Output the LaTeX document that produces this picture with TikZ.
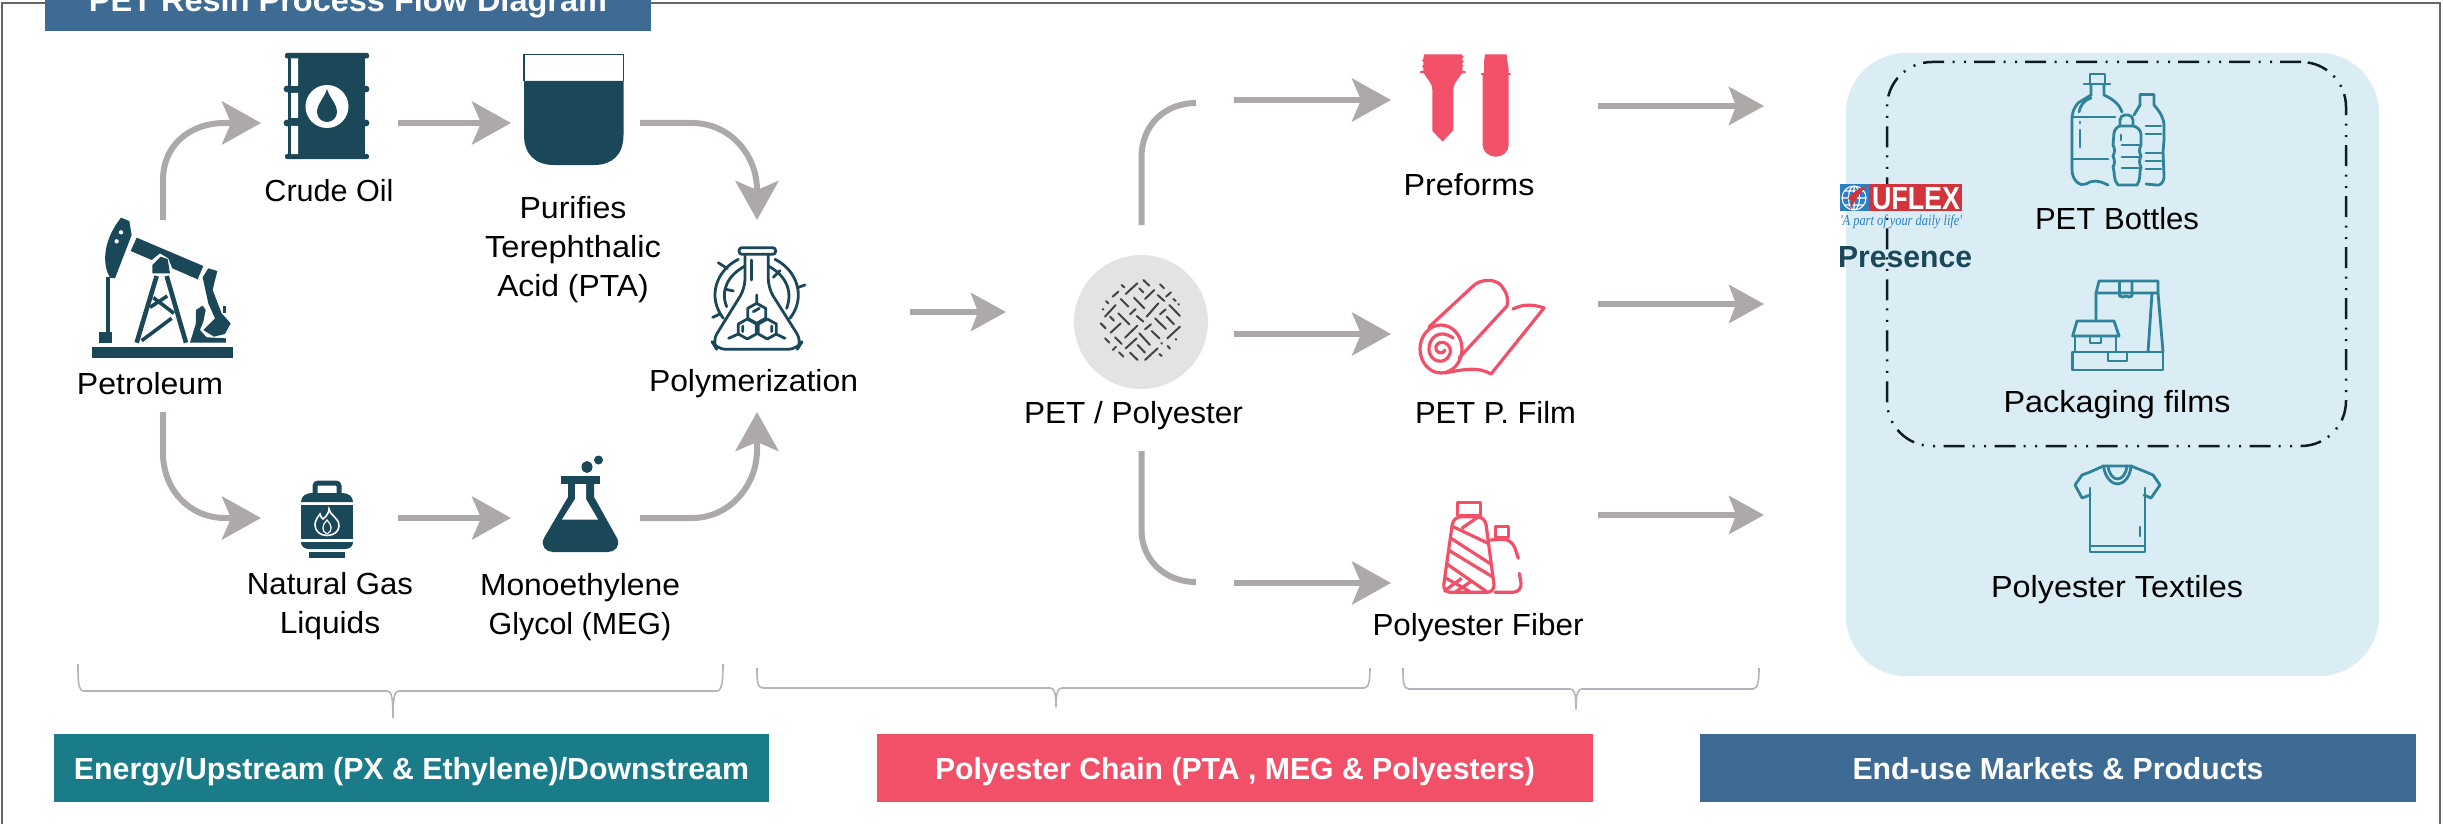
\documentclass[tikz,border=0pt]{standalone}
\usepackage{fontspec}
\usepackage{graphicx}
\setmainfont{Liberation Sans}
\newfontfamily\tagfont{Liberation Serif}
\usetikzlibrary{arrows.meta,shapes.geometric}
\definecolor{darkteal}{HTML}{1A4858}
\definecolor{redicon}{HTML}{F24F68}
\definecolor{blueicon}{HTML}{2E8299}
\definecolor{arrowgray}{HTML}{ADA9A8}
\definecolor{bandteal}{HTML}{1A7C88}
\definecolor{bandblue}{HTML}{3E6B94}
\definecolor{panelblue}{HTML}{DAECF4}
\definecolor{framegray}{HTML}{666666}
\definecolor{bracegray}{HTML}{B4B4BC}
\definecolor{dashdark}{HTML}{0D1B22}
\definecolor{pelletdark}{HTML}{3F4448}
\definecolor{logored}{HTML}{D3343C}
\definecolor{logoblue}{HTML}{2E7FC1}
\newcommand{\fitw}[2]{\resizebox{#1pt}{\height}{#2}}
\tikzset{
 port/.style={inner sep=0pt,outer sep=0pt,minimum width=#1},
 arrowlink/.style={draw=arrowgray,line width=6pt,-{Stealth[length=39pt,width=43pt,inset=9pt]}},
 smallarrow/.style={draw=arrowgray,line width=6pt,-{Stealth[length=35pt,width=38pt,inset=7pt]}},
 plainlink/.style={draw=arrowgray,line width=6pt},
 lbl/.style={anchor=base,inner sep=0pt,outer sep=0pt,font=\fontsize{30.5}{39}\selectfont,text=black,align=center},
 band/.style={inner sep=0pt,outer sep=0pt,text=white,font=\fontsize{30.5}{36}\selectfont\bfseries,text height=22pt,text depth=0pt},
 bracefig/.style={draw=bracegray,line width=1.6pt},
 tealline/.style={draw=darkteal,line width=2.8pt,line cap=round,line join=round},
 redline/.style={draw=redicon,line width=3.2pt,line cap=round,line join=round},
 blueline/.style={draw=blueicon,line width=2.8pt,line cap=round,line join=round},
}
\begin{document}
\begin{tikzpicture}[x=1pt,y=-1pt]
\clip (0,0) rectangle (2443,824);
\useasboundingbox (0,0) rectangle (2443,824);
\fill[white] (0,0) rectangle (2443,824);
% frame
\draw[framegray,line width=2.5pt] (2,830) -- (2,3) -- (2440,3) -- (2440,830);
% title
\node[band,minimum width=606pt,minimum height=50pt,fill=bandblue,text height=0pt] (title) at (348,6) {};
\node[anchor=base,inner sep=0pt,text=white,font=\fontsize{31}{36}\selectfont\bfseries] (titletext) at (348,12) {\fitw{518}{PET Resin Process Flow Diagram}};
% panel
\node[port=533pt,minimum height=623pt,fill=panelblue,rounded corners=60pt] (market) at (2112.5,364.5) {};
\node[port=459pt,minimum height=384pt,draw=dashdark,line width=2.5pt,rounded corners=45pt,dash pattern=on 21pt off 8pt on 2pt off 9.5pt on 2pt off 8.5pt] (presencebox) at (2116.5,254) {};
% bands
\node[band,minimum width=715pt,minimum height=68pt,fill=bandteal] (bandA) at (411.5,768) {\fitw{675}{Energy/Upstream (PX \& Ethylene)/Downstream}};
\node[band,minimum width=716pt,minimum height=68pt,fill=redicon] (bandB) at (1235,768) {\fitw{600}{Polyester Chain (PTA , MEG \& Polyesters)}};
\node[band,minimum width=716pt,minimum height=68pt,fill=bandblue] (bandC) at (2058,768) {\fitw{411}{End-use Markets \& Products}};
% braces
\draw[bracefig] (78,664) .. controls (78,680) and (78,691) .. (84,691) -- (387,691) .. controls (391,691) and (393,695) .. (393,718) .. controls (393,695) and (395,691) .. (399,691) -- (717,691) .. controls (722,691) and (723,680) .. (723,664);
\draw[bracefig] (757,668) .. controls (757,680) and (757,688) .. (763,688) -- (1050,688) .. controls (1054,688) and (1056,692) .. (1056,707) .. controls (1056,692) and (1058,688) .. (1062,688) -- (1364,688) .. controls (1369,688) and (1370,680) .. (1370,668);
\draw[bracefig] (1403,668) .. controls (1403,680) and (1403,689) .. (1409,689) -- (1570,689) .. controls (1574,689) and (1576,693) .. (1576,709) .. controls (1576,693) and (1578,689) .. (1582,689) -- (1753,689) .. controls (1758,689) and (1759,680) .. (1759,668);
% ports for connectors
\node[port=10pt,minimum height=192pt] (petroleumport) at (163,316) {};
\node[port=137pt,minimum height=10pt] (crudeport) at (329.5,123) {};
\node[port=129pt,minimum height=10pt] (ptaport) at (575.5,123) {};
\node[port=137pt,minimum height=10pt] (nglport) at (329.5,518) {};
\node[port=129pt,minimum height=10pt] (megport) at (575.5,518) {};
\node[port=10pt,minimum height=192pt] (polyport) at (757,316) {};
\node[port=96.5pt,minimum height=10pt] (polyoutport) at (957.75,312) {};
\node[port=10pt,minimum height=226pt] (pelletport) at (1141.5,338) {};
\node[port=207pt,minimum height=12pt] (preport) at (1494.5,103) {};
\node[port=207pt,minimum height=12pt] (filmport) at (1494.5,319) {};
\node[port=207pt,minimum height=12pt] (fiberport) at (1494.5,549) {};
\coordinate (branchup) at (1196,103);
\coordinate (branchdown) at (1196,582);
\coordinate (midfeed) at (1234,334);
\coordinate (upfeed) at (1234,100);
\coordinate (downfeed) at (1234,583);
\coordinate (marketA) at (1764,106);
\coordinate (marketB) at (1764,304);
\coordinate (marketC) at (1764,515);
% connectors
\draw[arrowlink] (petroleumport.north) -- (163,180) .. controls (163,145) and (190,123) .. (225,123) -- (crudeport.west);
\draw[arrowlink] (petroleumport.south) -- (163,453) .. controls (163,490) and (190,518) .. (225,518) -- (nglport.west);
\draw[arrowlink] (crudeport.east) -- (ptaport.west);
\draw[arrowlink] (nglport.east) -- (megport.west);
\draw[arrowlink] (ptaport.east) -- (692,123) .. controls (730,123) and (757,155) .. (757,190) -- (polyport.north);
\draw[arrowlink] (megport.east) -- (692,518) .. controls (730,518) and (757,485) .. (757,450) -- (polyport.south);
\draw[smallarrow] (polyoutport.west) -- (polyoutport.east);
\draw[plainlink] (pelletport.north) -- (1141.5,157) .. controls (1141.5,125) and (1165,103) .. (branchup);
\draw[plainlink] (pelletport.south) -- (1141.5,530) .. controls (1141.5,560) and (1165,582) .. (branchdown);
\draw[arrowlink] (upfeed) -- ([yshift=3pt]preport.west);
\draw[arrowlink] (midfeed) -- ([yshift=-15pt]filmport.west);
\draw[arrowlink] (downfeed) -- ([yshift=-34pt]fiberport.west);
\draw[smallarrow] ([yshift=-3pt]preport.east) -- (marketA);
\draw[smallarrow] ([yshift=15pt]filmport.east) -- (marketB);
\draw[smallarrow] ([yshift=34pt]fiberport.east) -- (marketC);
% pump jack
\begin{scope}[shift={(60,190)},x=0.3333pt,y=-0.3333pt]
\fill[darkteal] (97,472) rectangle (520,505);
\fill[darkteal] (183,83) -- (208,93) -- (215,135) -- (165,265) -- (150,263) .. controls (125,220) and (130,150) .. (183,83) -- cycle;
\fill[white] (183,127) circle (6.5) (170,154) circle (6.5);
\fill[darkteal] (137,262) rectangle (150,430);
\fill[darkteal] (118,427) rectangle (157,458);
\fill[darkteal] (230,143) -- (430,228) -- (413,268) -- (337,235) -- (325,205) -- (300,190) -- (275,210) -- (212,183) -- cycle;
\fill[darkteal] (277,250) -- (277,225) -- (302,200) -- (323,207) -- (330,250) -- cycle;
\draw[darkteal,line width=4.6pt] (290,258) -- (230,458) (320,258) -- (378,458);
\draw[darkteal,line width=3.6pt] (280,323) -- (342,370) (335,385) -- (245,452) (270,352) -- (322,318);
\fill[darkteal] (445,235) -- (472,243) -- (458,300) -- (485,370) -- (512,400) -- (495,432) -- (462,440) -- (430,420) -- (465,385) -- (445,340) -- (428,262) -- cycle;
\fill[darkteal] (390,458) -- (408,400) -- (408,360) -- (428,347) -- (437,360) -- (430,395) -- (420,420) -- (440,442) -- (498,445) -- (498,458) -- cycle;
\fill[darkteal] (488,347) rectangle (498,370);
\end{scope}
% barrel
\fill[darkteal,rounded corners=2pt] (285,53) rectangle (369,58.5);
\fill[darkteal,rounded corners=2pt] (285,154) rectangle (369,159);
\fill[darkteal] (288,58) rectangle (365,154);
\fill[darkteal] (287,89) circle (3.4) (366,89) circle (3.4) (287,123) circle (3.4) (366,123) circle (3.4);
\fill[white] (291,58.5) rectangle (298,86) (291,93) rectangle (298,118) (291,126) rectangle (298,154);
\fill[white] (327,106.5) circle (21.5);
\fill[darkteal] (327,89) .. controls (329,97) and (337,104) .. (337,112) .. controls (337,118) and (332,122) .. (327,122) .. controls (322,122) and (317,118) .. (317,112) .. controls (317,104) and (325,97) .. (327,89) -- cycle;
% beaker
\fill[darkteal] (524,81) -- (623.5,81) -- (623.5,135) .. controls (623.5,155) and (612,165) .. (594,165) -- (554,165) .. controls (536,165) and (524,155) .. (524,135) -- cycle;
\draw[darkteal,line width=1.5pt] (524,81) -- (524,54.5) -- (623.5,54.5) -- (623.5,81);
% polymerization flask
\begin{scope}[shift={(690,230)},x=0.3333pt,y=-0.3333pt]
\draw[tealline,rounded corners=3pt] (147,53) rectangle (257,73);
\draw[tealline,rounded corners=9pt] (165,75) -- (165,175) -- (66,335) -- (80,358) -- (322,358) -- (336,335) -- (235,175) -- (235,75);
\draw[tealline] (185,90) -- (185,150);
\draw[tealline] (145,88) .. controls (80,120) and (50,200) .. (100,265);
\draw[tealline] (255,88) .. controls (320,120) and (350,200) .. (300,265);
\draw[tealline] (165,108) .. controls (115,135) and (90,180) .. (110,230);
\draw[tealline] (235,108) .. controls (285,135) and (310,180) .. (290,235);
\draw[tealline] (85,98) -- (112,116) (108,178) -- (130,183) (68,262) -- (90,252) (345,165) -- (325,172) (250,142) -- (270,122);
\foreach \hx/\hy in {200/250,172/297,232/297}{
 \draw[tealline] (\hx,\hy-30) -- (\hx+27,\hy-15) -- (\hx+27,\hy+15) -- (\hx,\hy+30) -- (\hx-27,\hy+15) -- (\hx-27,\hy-15) -- cycle;
}
\draw[tealline] (200,195) -- (200,218) (116,325) -- (145,312) (285,325) -- (258,312) (190,245) -- (208,235) (158,288) -- (158,305) (245,288) -- (245,305);
\end{scope}
% gas cylinder
\draw[darkteal,line width=5pt,rounded corners=3pt] (315,493) -- (315,483) -- (339,483) -- (339,493);
\fill[darkteal] (301,502) .. controls (301,496) and (306,493) .. (312,493) -- (342,493) .. controls (348,493) and (353,496) .. (353,502) -- cycle;
\fill[darkteal] (301,504.5) rectangle (353,538.5);
\fill[darkteal] (301,542) -- (353,542) .. controls (353,546) and (350,549) .. (345,549) -- (309,549) .. controls (304,549) and (301,546) .. (301,542) -- cycle;
\fill[darkteal] (309,552) rectangle (345,558);
\draw[white,line width=1.6pt] (329,509) .. controls (329,515) and (339,517) .. (339,526) .. controls (339,532) and (333,535.5) .. (327,535.5) .. controls (320,535.5) and (315,531) .. (315,525) .. controls (315,520) and (318,517) .. (320,514) .. controls (321,517) and (322,519) .. (323,519) .. controls (327,516) and (329,512) .. (329,509) -- cycle;
\draw[white,line width=1.2pt] (327,534) .. controls (321,531) and (322,525) .. (327,520) .. controls (332,525) and (333,531) .. (327,534);
% MEG flask
\fill[darkteal] (561,476) rectangle (600,484);
\fill[darkteal] (568,484) -- (568,497) -- (544,538) .. controls (540,546) and (546,552) .. (553,552) -- (608,552) .. controls (615,552) and (621,546) .. (617,538) -- (594,497) -- (594,484) -- cycle;
\fill[white] (575,484) -- (586,484) -- (586,499) -- (598,519.5) -- (562,519.5) -- (575,499) -- cycle;
\fill[darkteal] (587,467) ellipse (5.5 and 6) (598.5,460) circle (4.5);
% pellet disc
\node[circle,fill=black!11,inner sep=0pt,outer sep=0pt,minimum size=134pt] (pelletdisc) at (1141,322) {};
\begin{scope}[shift={(1090,270)},x=0.3333pt,y=-0.3333pt]
\draw[pelletdark,line width=2pt,line cap=round]
 (95,45)--(103,52) (68,80)--(85,65) (107,72)--(142,40) (160,30)--(178,47) (148,55)--(160,67)
 (165,87)--(193,60) (210,43)--(222,55) (228,80)--(243,67) (203,75)--(223,93) (48,93)--(55,100)
 (38,117)--(40,119) (45,140)--(77,105) (92,87)--(115,110) (132,83)--(163,115) (120,133)--(137,117)
 (170,140)--(205,100) (250,87)--(257,93) (265,102)--(267,104) (210,133)--(227,118) (238,105)--(270,138)
 (60,140)--(72,152) (85,130)--(118,163) (140,138)--(160,155) (195,145)--(228,177) (230,140)--(252,163)
 (32,160)--(47,175) (62,188)--(92,160) (105,203)--(142,167) (165,178)--(183,163) (148,190)--(180,225)
 (185,183)--(208,205) (232,205)--(270,170) (45,205)--(58,218) (75,202)--(95,222) (107,235)--(140,205)
 (143,225)--(165,248) (214,219)--(216,221) (257,207)--(259,209) (68,240)--(78,230) (87,247)--(100,260)
 (120,248)--(143,270) (165,270)--(203,235) (233,228)--(240,236) (208,252)--(215,258);
\end{scope}
% preforms
\begin{scope}[shift={(1400,45)},x=0.3333pt,y=-0.3333pt]
\fill[redicon] (72,28) -- (187,28) -- (187,33) -- (192,35) -- (187,40) -- (187,46) -- (192,48) -- (187,53) -- (187,60) -- (191,62) -- (187,67) -- (187,77) -- (197,79) -- (197,84) -- (185,85) .. controls (178,100) and (160,112) .. (160,135) -- (160,255) -- (128,290) -- (97,258) -- (97,135) .. controls (97,112) and (78,100) .. (72,85) -- (60,84) -- (60,79) -- (70,77) -- (70,68) -- (66,65) -- (70,60) -- (70,50) -- (66,47) -- (70,42) -- cycle;
\fill[redicon] (255,28) -- (320,28) -- (322,50) -- (326,70) -- (326,84) -- (332,85) -- (332,90) -- (326,90) -- (326,300) .. controls (326,320) and (308,335) .. (288,335) .. controls (266,335) and (248,320) .. (248,300) -- (248,90) -- (243,90) -- (243,85) -- (252,84) -- (252,50) -- cycle;
\end{scope}
% film roll
\draw[redline] (1441,349) ellipse (21 and 24);
\draw[redline] (1453,338) .. controls (1440,328) and (1428,338) .. (1429,350) .. controls (1430,362) and (1445,366) .. (1450,354) .. controls (1453,344) and (1440,338) .. (1436,346) .. controls (1434,352) and (1442,356) .. (1445,350);
\draw[redline] (1429,327) -- (1472,287) .. controls (1480,278) and (1498,278) .. (1503,288) .. controls (1508,295) and (1508,300) .. (1507,306) -- (1459,358);
\draw[redline] (1513,309) .. controls (1525,303) and (1535,305) .. (1544,308) -- (1491,374) .. controls (1478,366) and (1460,370) .. (1445,373);
% spools
\begin{scope}[shift={(1420,495)},x=0.3333pt,y=-0.3333pt]
\draw[redline] (113,60) -- (113,23) -- (182,23) -- (182,60);
\draw[redline] (113,62) -- (182,62);
\begin{scope}
\clip (100,65) -- (195,65) -- (225,292) -- (70,292) -- cycle;
\draw[redicon,line width=3.2pt]
 (95,93) -- (215,150) (90,128) -- (220,212) (85,165) -- (225,250) (78,205) -- (200,290)
 (125,100) -- (180,62) (70,245) -- (150,290) (70,290) -- (125,250) (105,292) -- (155,258);
\end{scope}
\draw[redline,rounded corners=8pt] (100,65) -- (195,65) -- (225,292) -- (68,292) -- cycle;
\draw[redline] (227,125) -- (227,95) -- (265,95) -- (265,125);
\draw[redline] (227,127) -- (265,127);
\draw[redline,rounded corners=10pt] (212,135) -- (275,130) -- (295,190);
\draw[redline,rounded corners=10pt] (298,235) -- (308,292) -- (225,292);
\end{scope}
% bottles
\begin{scope}[blueline]
\draw (2090,84) -- (2090,74) -- (2105,74) -- (2105,84) (2084,84) -- (2110,84);
\draw (2091,84) -- (2091,95) -- (2078,103) .. controls (2074,108) and (2072,112) .. (2072,120) -- (2072,170) .. controls (2072,180) and (2080,187) .. (2086,184) .. controls (2092,180) and (2098,180) .. (2108,185);
\draw (2104,84) -- (2104,95) .. controls (2115,100) and (2120,106) .. (2122,112);
\draw (2072,117) -- (2115,117) (2072,159) -- (2108,159) (2080,122) -- (2080,123) (2080,130) -- (2080,147);
\draw (2079,112) .. controls (2080,106) and (2084,100) .. (2091,98);
\draw[rounded corners=5pt] (2120,126) -- (2120,115) -- (2133,115) -- (2133,126);
\draw (2114,133) .. controls (2114,130) and (2118,126) .. (2120,126) -- (2133,126) .. controls (2136,126) and (2141,130) .. (2141,134) -- (2141,145) .. controls (2139,149) and (2139,152) .. (2141,156) .. controls (2139,161) and (2139,163) .. (2141,167) .. controls (2139,172) and (2141,180) .. (2137,185) -- (2118,185) .. controls (2113,180) and (2115,172) .. (2113,167) .. controls (2115,163) and (2115,161) .. (2113,156) .. controls (2115,152) and (2115,149) .. (2113,145) -- cycle;
\draw (2122,145) -- (2139,145) (2122,157) -- (2139,157) (2122,168) -- (2139,168) (2121,135) -- (2121,140);
\draw (2140,105) -- (2140,94.5) -- (2154,94.5) -- (2154,105) .. controls (2160,112) and (2164,118) .. (2164,126) -- (2164,140) -- (2163,152) -- (2164,176) .. controls (2164,183) and (2160,186) .. (2156,185) -- (2146,184);
\draw (2140,105) -- (2134,115);
\draw (2146,126) -- (2161,126) (2146,134) -- (2161,134) (2146,153) -- (2161,153) (2146,161) -- (2161,161) (2146,169) -- (2161,169);
\end{scope}
% packaging
\begin{scope}[blueline]
\draw (2096,293) -- (2099,281) -- (2158,281) -- (2158,293) -- cycle;
\draw (2119.5,281) -- (2119.5,296) -- (2123,297) -- (2126,296) -- (2129,297) -- (2132,296) -- (2132,281);
\draw (2096,293) -- (2096,320) (2158,293) -- (2163,352) (2152,293) -- (2148,352);
\draw (2077,321) -- (2114,321) -- (2119,336) -- (2072.6,336) -- cycle;
\draw (2075,336) -- (2075,352) (2116,336) -- (2116,352);
\draw (2090,338) -- (2090,343) -- (2101,343) -- (2101,338);
\draw (2072.6,352) rectangle (2163,370);
\draw (2108,353) -- (2108,361) -- (2127,361) -- (2127,353);
\end{scope}
% t-shirt
\begin{scope}[blueline]
\draw (2103.5,466) -- (2131,466) -- (2146,472) -- (2153,475) -- (2160,485) -- (2151,498) -- (2144,495);
\draw (2103.5,466) -- (2090,472) -- (2082,475) -- (2075,485) -- (2082,498) -- (2090,495);
\draw (2090,488) -- (2090,552) -- (2145,552) -- (2145,488);
\draw (2090,546) -- (2145,546) (2140,527) -- (2140,536);
\draw (2103.5,466) .. controls (2105,478) and (2112,484) .. (2117.5,484) .. controls (2123,484) and (2130,478) .. (2131,466);
\draw (2108,466) .. controls (2109,474) and (2113,479) .. (2117.5,479) .. controls (2122,479) and (2126,474) .. (2127,466);
\end{scope}
% logo
\fill[logoblue] (1840,184) rectangle (1869,211);
\fill[logored] (1869,184) rectangle (1962,211);
\draw[white,line width=1.1pt] (1854,198) circle (12) (1854,198) ellipse (5.5 and 12) (1842,198) -- (1866,198) (1844,191) -- (1864,191) (1844,205) -- (1864,205) (1854,186) -- (1854,210);
\fill[logored] (1867,186) .. controls (1858,188) and (1852,193) .. (1848,199) -- (1851,200) -- (1850,210) .. controls (1854,202) and (1860,192) .. (1867,186) -- cycle;
\node[anchor=base,inner sep=0pt,text=white,font=\fontsize{32}{34}\selectfont\bfseries] (logoname) at (1916,209) {\fitw{88}{UFLEX}};
\node[anchor=base,inner sep=0pt,text=logoblue,font=\fontsize{15}{16}\selectfont\tagfont\itshape] (logotag) at (1901,225) {\fitw{122}{'A part of your daily life'}};
% labels
\node[lbl] (petroleum) at (150,394) {\fitw{146}{Petroleum}};
\node[lbl] (crude) at (329,201) {\fitw{129}{Crude Oil}};
\node[lbl] (pta) at (573,296) {\fitw{107}{Purifies}\\\fitw{176}{Terephthalic}\\\fitw{151.5}{Acid (PTA)}};
\node[lbl] (polymer) at (753.5,391) {\fitw{209}{Polymerization}};
\node[lbl] (ngl) at (330,633) {\fitw{166}{Natural Gas}\\\fitw{100.5}{Liquids}};
\node[lbl] (meg) at (580,634) {\fitw{200}{Monoethylene}\\\fitw{182.6}{Glycol (MEG)}};
\node[lbl] (polyester) at (1133.5,423) {\fitw{219}{PET / Polyester}};
\node[lbl] (preforms) at (1469,195) {\fitw{131}{Preforms}};
\node[lbl] (film) at (1495.5,423) {\fitw{161}{PET P. Film}};
\node[lbl] (fiber) at (1478,635) {\fitw{211}{Polyester Fiber}};
\node[lbl] (bottles) at (2117,229) {\fitw{164}{PET Bottles}};
\node[lbl] (packaging) at (2117,412) {\fitw{227}{Packaging films}};
\node[lbl] (textiles) at (2117,597) {\fitw{252}{Polyester Textiles}};
\node[lbl,text=darkteal,font=\fontsize{30.5}{36}\selectfont\bfseries] (presence) at (1905,267) {\fitw{134}{Presence}};
\end{tikzpicture}
\end{document}
